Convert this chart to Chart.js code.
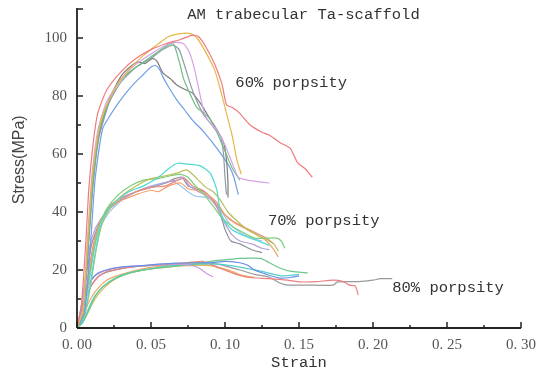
<!DOCTYPE html>
<html>
<head>
<meta charset="utf-8">
<script src="https://cdn.jsdelivr.net/npm/chart.js@4"></script>
<style>
  body { margin: 0; background: #fff; }
</style>
</head>
<body>
<canvas id="stressChart" width="537" height="376"></canvas>
<script>
// tick values
const xTicks = [0, 0.05, 0.10, 0.15, 0.20, 0.25, 0.30];
const yTicks = [0, 20, 40, 60, 80, 100];

// 60% porosity curves [strain, stress MPa]
const red60 = [[0,0],[0.003,8],[0.006,30],[0.008,48],[0.011,64],[0.014,74],[0.02,82],[0.03,88.5],[0.04,93],[0.05,96],[0.06,98],[0.07,99.5],[0.078,101],[0.082,100.5],[0.087,97],[0.093,91],[0.098,84],[0.101,77],[0.105,76],[0.11,74],[0.117,70],[0.125,67.5],[0.13,66.5],[0.137,64],[0.144,62],[0.149,57],[0.154,55],[0.159,52]];
const yellow60 = [[0,0],[0.004,6],[0.007,28],[0.01,50],[0.013,63],[0.017,73],[0.025,82],[0.035,89],[0.045,94],[0.055,98],[0.062,100.5],[0.07,101.5],[0.077,101.5],[0.081,100],[0.086,96],[0.093,89],[0.097,82],[0.101,74],[0.105,66],[0.108,58],[0.111,53]];
const violet60 = [[0,0],[0.004,7],[0.007,30],[0.01,52],[0.014,68],[0.02,78],[0.03,86],[0.04,91],[0.05,94.5],[0.06,97.5],[0.066,98.5],[0.072,98],[0.076,95],[0.08,88],[0.085,76],[0.088,72],[0.095,68],[0.1,63],[0.104,58],[0.109,52],[0.115,51],[0.122,50.5],[0.13,50]];
const green60 = [[0,0],[0.004,7],[0.008,32],[0.011,52],[0.015,68],[0.022,79],[0.03,86],[0.04,90],[0.05,93.5],[0.058,96.5],[0.065,98],[0.069,92],[0.072,86],[0.077,80],[0.081,76],[0.086,74],[0.09,72],[0.095,67],[0.1,61],[0.105,55],[0.11,51]];
const slate60 = [[0,0],[0.004,6],[0.008,30],[0.011,50],[0.015,66],[0.022,78],[0.03,85],[0.04,90],[0.05,93],[0.058,96],[0.065,97.5],[0.069,96],[0.073,90],[0.078,82],[0.085,74],[0.091,70],[0.097,66],[0.099,60],[0.1,52],[0.101,46]];
const gray60 = [[0,0],[0.004,6],[0.008,32],[0.011,52],[0.015,67],[0.022,79],[0.03,87],[0.037,90.5],[0.041,91.7],[0.046,91.2],[0.051,93],[0.054,92],[0.058,88],[0.063,86],[0.067,84],[0.072,82.5],[0.078,81],[0.084,77],[0.09,72],[0.095,68],[0.099,64],[0.101,58],[0.102,50],[0.102,45]];
const blue60 = [[0,0],[0.005,5],[0.009,28],[0.012,50],[0.015,62],[0.0175,69],[0.022,73],[0.028,77.6],[0.033,81],[0.039,84.5],[0.045,87.5],[0.05,90],[0.053,90.5],[0.056,89],[0.058,86.6],[0.062,83],[0.0675,78.6],[0.073,75],[0.078,71.7],[0.085,68],[0.092,63.7],[0.098,59.5],[0.103,55.6],[0.106,52],[0.109,46]];

// 70% porosity curves
const cyan70 = [[0,0],[0.004,3],[0.008,12],[0.012,25],[0.016,35],[0.02,40],[0.027,44],[0.035,47],[0.045,49],[0.055,52],[0.062,55],[0.068,56.8],[0.075,56.5],[0.083,56],[0.09,53.4],[0.0945,47.6],[0.0966,40.7],[0.1,36.6],[0.105,33.8],[0.115,31.4],[0.124,29.7],[0.13,28.5]];
const olive70 = [[0,0],[0.005,4],[0.009,14],[0.013,27],[0.017,36],[0.022,41],[0.03,45.5],[0.04,49],[0.05,51.5],[0.06,52.5],[0.068,53.5],[0.074,54.5],[0.078,53],[0.082,51],[0.087,48.5],[0.092,47],[0.097,44],[0.102,40],[0.108,37],[0.115,34],[0.122,32],[0.128,30.5],[0.133,29],[0.136,26.5]];
const green70 = [[0,0],[0.003,4],[0.007,14],[0.011,26],[0.015,35],[0.02,41],[0.028,46],[0.036,49],[0.045,51],[0.055,51.5],[0.063,52.5],[0.07,53],[0.075,52],[0.08,49],[0.086,46],[0.092,42],[0.098,38],[0.105,35],[0.112,33],[0.12,31],[0.128,31],[0.135,31],[0.138,30],[0.1405,27.5]];
const orange70 = [[0,0],[0.004,5],[0.008,18],[0.012,30],[0.016,37],[0.022,41.5],[0.03,44],[0.04,46],[0.05,47.5],[0.055,47],[0.06,48.5],[0.065,49.5],[0.07,50],[0.075,48],[0.08,47.5],[0.088,46],[0.095,43],[0.1,39],[0.107,36],[0.115,34],[0.122,32],[0.128,30],[0.133,27],[0.136,24.5]];
const red70 = [[0,0],[0.004,6],[0.008,20],[0.012,31],[0.016,37],[0.022,42],[0.03,45],[0.04,47],[0.05,48.5],[0.06,49],[0.068,51],[0.073,51.5],[0.078,49],[0.085,47.5],[0.092,44],[0.098,40],[0.105,37],[0.112,35],[0.12,33],[0.128,31],[0.133,29]];
const violet70 = [[0,0],[0.002,5],[0.005,15],[0.009,29],[0.013,35],[0.02,40],[0.028,43.5],[0.036,46],[0.045,48],[0.055,49.5],[0.062,50.5],[0.068,51],[0.072,52],[0.076,49],[0.082,47],[0.088,45.5],[0.094,42],[0.1,36],[0.105,32],[0.11,30],[0.118,29],[0.125,27.5],[0.13,27]];
const gray70 = [[0,0],[0.003,5],[0.006,17],[0.01,29],[0.015,36],[0.022,41],[0.03,44.5],[0.04,47],[0.05,48.5],[0.06,50],[0.066,51.5],[0.071,52],[0.075,49],[0.08,48],[0.086,47],[0.092,44],[0.097,39],[0.1,34],[0.104,30],[0.11,29],[0.118,27],[0.125,26]];
const lightblue70 = [[0,0],[0.004,4],[0.008,15],[0.012,28],[0.016,35],[0.022,40],[0.03,44],[0.04,47],[0.05,49],[0.058,50],[0.065,50.5],[0.07,49],[0.075,47],[0.08,45.5],[0.087,45],[0.093,44],[0.098,40],[0.103,36],[0.11,33],[0.118,31],[0.125,30]];

// 80% porosity curves
const blue80 = [[0,0],[0.002,4],[0.005,10],[0.008,15],[0.012,18],[0.02,20],[0.03,21],[0.044,21.5],[0.055,22],[0.066,22.4],[0.08,22.5],[0.09,22.5],[0.1,23],[0.11,22.5],[0.115,21.7],[0.12,20],[0.128,18.5],[0.137,17.2],[0.145,17.5],[0.15,18]];
const violet80 = [[0,0],[0.002,5],[0.005,11],[0.009,16],[0.014,19],[0.02,20],[0.03,21],[0.045,21.5],[0.06,22],[0.07,22],[0.078,21.5],[0.083,20.5],[0.087,19],[0.092,17.6]];
const green80 = [[0,0],[0.004,2],[0.008,6],[0.012,10.7],[0.016,13.5],[0.021,15.5],[0.026,17],[0.032,18.3],[0.04,19.5],[0.055,20.7],[0.07,21.5],[0.08,22],[0.09,23],[0.1,23.5],[0.11,24],[0.124,24],[0.13,22.5],[0.137,20.7],[0.145,19.5],[0.156,19]];
const cyan80 = [[0,0],[0.004,2],[0.008,7],[0.012,11],[0.018,14.5],[0.025,17],[0.035,19],[0.05,20.5],[0.065,21.5],[0.08,22],[0.095,22],[0.11,21],[0.125,19.5],[0.138,18],[0.15,18.5]];
const red80 = [[0,0],[0.002,3],[0.005,9],[0.009,14],[0.014,17.5],[0.02,19.5],[0.03,20.5],[0.045,21.5],[0.06,22],[0.075,22.5],[0.085,23],[0.095,21],[0.105,19],[0.115,17.5],[0.13,17],[0.142,16.5],[0.151,15.9],[0.162,16],[0.173,16.5],[0.18,16],[0.184,14.8],[0.188,14.5],[0.19,11.4]];
const gray80 = [[0,0],[0.003,4],[0.006,10],[0.01,15],[0.015,18],[0.022,19.5],[0.035,21],[0.05,21.5],[0.065,22],[0.08,22.5],[0.095,22],[0.11,20],[0.12,18.5],[0.13,17.5],[0.137,15.5],[0.142,14.8],[0.155,14.8],[0.173,14.8],[0.176,15.9],[0.19,16],[0.2,16.5],[0.205,17],[0.213,17]];
const orange80 = [[0,0],[0.004,4],[0.008,9],[0.013,13],[0.02,16.5],[0.03,18.5],[0.045,20.5],[0.06,21.5],[0.075,22],[0.085,22],[0.095,21],[0.105,19.5],[0.112,18],[0.12,17.5]];
const yellow80 = [[0,0],[0.005,3],[0.01,8],[0.015,12],[0.022,15.5],[0.03,18],[0.045,20],[0.06,21],[0.075,21.5],[0.09,21.5],[0.1,20],[0.108,18.5],[0.115,17.8]];

const curves = [
    [red60, '#ee7b7b'], [yellow60, '#e6b64e'], [violet60, '#d9a2e8'], [green60, '#6cbf80'],
    [slate60, '#8e9ba6'], [gray60, '#7c7c7c'], [blue60, '#6f9fe6'],
    [cyan70, '#4fd8d2'], [olive70, '#b9c05a'], [green70, '#7ccf7a'], [orange70, '#f2a070'],
    [red70, '#ec8c7c'], [violet70, '#b6a0d8'], [gray70, '#8f8f9c'], [lightblue70, '#9cc6ee'],
    [blue80, '#6a8fe0'], [violet80, '#c99be6'], [green80, '#6cc68a'], [cyan80, '#55cfd0'],
    [red80, '#ee8080'], [gray80, '#999999'], [orange80, '#f0a868'], [yellow80, '#dcc060']
];

const textFont = '15.5px "Liberation Mono", "DejaVu Sans Mono", monospace';

// axes with inward ticks, title and group labels
const decorPlugin = {
    id: 'decor',
    afterDraw(chart) {
        const ctx = chart.ctx;
        const xs = chart.scales.x, ys = chart.scales.y;
        const x0 = xs.getPixelForValue(0), y0 = ys.getPixelForValue(0);
        ctx.save();
        ctx.strokeStyle = '#222';
        ctx.lineWidth = 1.8;
        ctx.beginPath();
        ctx.moveTo(x0, y0);
        ctx.lineTo(x0, ys.top - 1);
        ctx.moveTo(x0, y0);
        ctx.lineTo(xs.right, y0);
        ctx.stroke();
        ctx.lineWidth = 1.5;
        ctx.beginPath();
        for (let v = 0; v <= 110; v += 10) {
            const py = ys.getPixelForValue(v);
            ctx.moveTo(x0, py);
            ctx.lineTo(x0 + (v % 20 === 0 || v === 110 ? 6 : 4), py);
        }
        for (let i = 0; i <= 12; i++) {
            const px = xs.getPixelForValue(i * 0.025);
            ctx.moveTo(px, y0);
            ctx.lineTo(px, y0 - (i % 2 === 0 ? 6 : 3));
        }
        ctx.stroke();

        ctx.fillStyle = '#333';
        ctx.font = textFont;
        ctx.textBaseline = 'middle';
        ctx.textAlign = 'center';
        ctx.fillText('AM trabecular Ta-scaffold', xs.getPixelForValue(0.153), ys.getPixelForValue(108));
        ctx.textAlign = 'left';
        ctx.fillText('60% porpsity', xs.getPixelForValue(0.107), ys.getPixelForValue(84.5));
        ctx.fillText('70% porpsity', xs.getPixelForValue(0.129), ys.getPixelForValue(37));
        ctx.fillText('80% porpsity', xs.getPixelForValue(0.213), ys.getPixelForValue(14));

        ctx.translate(20, ys.getPixelForValue(58));
        ctx.rotate(-Math.PI / 2);
        ctx.textAlign = 'center';
        ctx.fillStyle = '#444';
        ctx.font = '16px "Liberation Sans", sans-serif';
        ctx.fillText('Stress(MPa)', 0, 0);
        ctx.restore();
    }
};

const ctx = document.getElementById('stressChart').getContext('2d');
const stressChart = new Chart(ctx, {
    type: 'scatter',
    data: {
        datasets: curves.map(([pts, color]) => ({
            data: pts.map(p => ({ x: p[0], y: p[1] })),
            showLine: true,
            borderColor: color,
            borderWidth: 1.2,
            pointRadius: 0,
            tension: 0.2
        }))
    },
    options: {
        responsive: false,
        animation: false,
        layout: { padding: { top: 9, right: 16, left: 0, bottom: 0 } },
        plugins: {
            legend: { display: false },
            tooltip: { enabled: false }
        },
        scales: {
            x: {
                type: 'linear',
                min: 0,
                max: 0.3,
                afterFit: s => { s.height = 48; s.paddingLeft = 0; s.paddingRight = 0; },
                afterBuildTicks: s => { s.ticks = xTicks.map(v => ({ value: v })); },
                grid: { display: false, drawTicks: false },
                border: { display: false },
                ticks: {
                    padding: 8,
                    color: '#555',
                    font: { family: '"Liberation Serif", serif', size: 15 },
                    callback: v => v.toFixed(2).replace('.', '. ')
                },
                title: {
                    display: true,
                    text: 'Strain',
                    color: '#333',
                    padding: { top: 0, bottom: 4 },
                    font: { family: '"Liberation Mono", monospace', size: 15.5 }
                }
            },
            y: {
                type: 'linear',
                min: 0,
                max: 110,
                afterFit: s => { s.width = 77; s.paddingTop = 0; s.paddingBottom = 0; },
                afterBuildTicks: s => { s.ticks = yTicks.map(v => ({ value: v })); },
                grid: { display: false, drawTicks: false },
                border: { display: false },
                ticks: {
                    padding: 10,
                    color: '#555',
                    font: { family: '"Liberation Serif", serif', size: 15 }
                }
            }
        }
    },
    plugins: [decorPlugin]
});
</script>
</body>
</html>
